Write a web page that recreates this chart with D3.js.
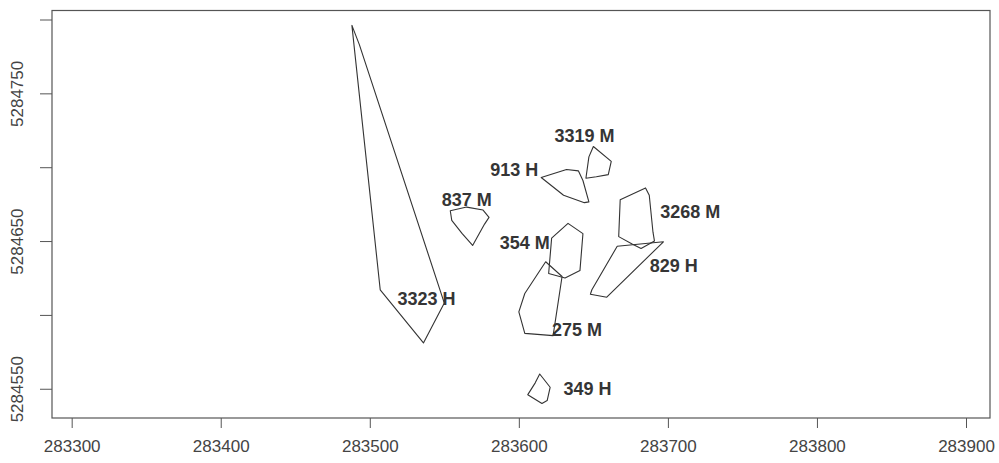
<!DOCTYPE html>
<html>
<head>
<meta charset="utf-8">
<script src="https://cdn.jsdelivr.net/npm/d3@7"></script>
<style>
  html, body { margin: 0; padding: 0; background: #fff; }
  svg { display: block; font-family: "Liberation Sans", Arial, sans-serif; }
</style>
</head>
<body>
<svg id="chart" width="999" height="463"></svg>
<script>
// Territory outlines (easting, northing) and their labels
const xTicks = [283300, 283400, 283500, 283600, 283700, 283800, 283900];
const yTicks = [5284550, 5284600, 5284650, 5284700, 5284750, 5284800];
const yTickLabels = ["5284550", "", "5284650", "", "5284750", ""];

const polyNames = ["3323 H", "3319 M", "913 H", "837 M", "3268 M", "829 H", "354 M", "275 M", "349 H"];

const poly3323H = [[283488, 5284796], [283507, 5284617], [283536, 5284581], [283550, 5284608], [283493, 5284783]];
const poly3319M = [[283650, 5284714], [283662, 5284704], [283660, 5284695], [283652, 5284693.5], [283645, 5284692.5], [283647, 5284707]];
const poly913H  = [[283615, 5284693], [283632, 5284698.5], [283640, 5284697.5], [283643, 5284691], [283647, 5284676.5], [283644, 5284676], [283630, 5284681]];
const poly837M  = [[283554, 5284670.5], [283565, 5284673], [283576, 5284671], [283580, 5284666], [283577, 5284661.5], [283569, 5284647], [283562, 5284655], [283555, 5284664]];
const poly3268M = [[283668, 5284678], [283685, 5284686], [283687.5, 5284681], [283690, 5284656], [283691, 5284650], [283682, 5284645], [283676, 5284648], [283667, 5284653]];
const poly829H  = [[283697, 5284649.5], [283666, 5284646.5], [283649, 5284617], [283648, 5284614], [283659, 5284612]];
const poly354M  = [[283633, 5284662], [283643, 5284655], [283641, 5284630], [283631, 5284625], [283620, 5284628], [283622, 5284652]];
const poly275M  = [[283618, 5284636], [283629, 5284626], [283623, 5284586], [283604, 5284587.5], [283600, 5284602], [283604, 5284614.5]];
const poly349H  = [[283614, 5284560], [283621, 5284551], [283619, 5284542], [283615.5, 5284540], [283606, 5284546], [283611, 5284554]];

const labelX = [283538, 283644, 283597, 283565, 283715, 283704, 283604, 283639, 283646];
const labelY = [5284611, 5284721, 5284698, 5284678, 5284670, 5284633, 5284649, 5284590, 5284550];

const polygons = [poly3323H, poly3319M, poly913H, poly837M, poly3268M, poly829H, poly354M, poly275M, poly349H];

const svg = d3.select("#chart");
const frame = { left: 52, right: 990, top: 10.5, bottom: 418 };

const x = d3.scaleLinear().domain([283286.8, 283916.1]).range([frame.left, frame.right]);
const y = d3.scaleLinear().domain([5284530.2, 5284806.1]).range([frame.bottom, frame.top]);

// Plot frame
svg.append("rect")
  .attr("x", frame.left).attr("y", frame.top)
  .attr("width", frame.right - frame.left).attr("height", frame.bottom - frame.top)
  .attr("fill", "none").attr("stroke", "#555").attr("stroke-width", 1.2);

// Axes
const xAxis = svg.append("g")
  .attr("transform", `translate(0,${frame.bottom})`)
  .call(d3.axisBottom(x).tickValues(xTicks).tickSize(10).tickPadding(12).tickFormat(d3.format("d")));
xAxis.select(".domain").remove();
xAxis.selectAll("line").attr("stroke", "#555");
xAxis.selectAll("text")
  .attr("fill", "#444").attr("font-size", 17)
  .attr("font-family", "'Liberation Sans', Arial, sans-serif");

const yAxis = svg.append("g")
  .attr("transform", `translate(${frame.left},0)`)
  .call(d3.axisLeft(y).tickValues(yTicks).tickSize(12).tickFormat((d, i) => yTickLabels[i]));
yAxis.select(".domain").remove();
yAxis.selectAll("line").attr("stroke", "#555");
yAxis.selectAll(".tick text")
  .attr("fill", "#444").attr("font-size", 17)
  .attr("font-family", "'Liberation Sans', Arial, sans-serif")
  .attr("text-anchor", "middle")
  .attr("x", 0).attr("y", 0).attr("dy", null)
  .attr("dominant-baseline", "central")
  .attr("transform", `translate(${17 - frame.left},0) rotate(-90)`);

// Territory polygons
const line = d3.line().x(d => x(d[0])).y(d => y(d[1])).curve(d3.curveLinearClosed);
svg.append("g").selectAll("path")
  .data(polygons)
  .join("path")
  .attr("d", line)
  .attr("fill", "none")
  .attr("stroke", "#333")
  .attr("stroke-width", 1.1)
  .attr("stroke-linejoin", "round");

// Labels
svg.append("g").selectAll("text")
  .data(polyNames)
  .join("text")
  .attr("x", (d, i) => x(labelX[i]))
  .attr("y", (d, i) => y(labelY[i]))
  .attr("text-anchor", "middle")
  .attr("dominant-baseline", "central")
  .attr("font-size", 18)
  .attr("font-weight", "bold")
  .attr("fill", "#353535")
  .text(d => d);
</script>
</body>
</html>
